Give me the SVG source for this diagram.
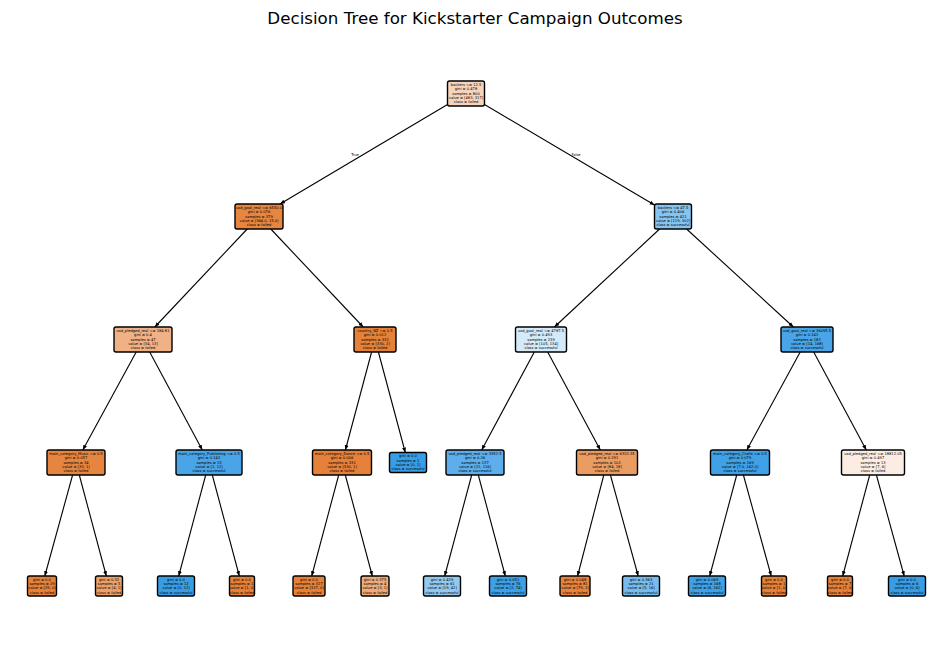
<svg xmlns="http://www.w3.org/2000/svg" width="950" height="658" viewBox="0 0 950 658">
<defs>
<style>
.t{font-family:"DejaVu Sans",sans-serif;font-size:3.65px;text-anchor:middle;fill:#000}
.b{stroke:#000;stroke-width:1.4}
.e{stroke:#000;stroke-width:1.1;fill:none;marker-end:url(#ah)}
.title{font-family:"DejaVu Sans",sans-serif;font-size:16.7px;text-anchor:middle;fill:#000}
</style>
<marker id="ah" viewBox="0 0 10 10" refX="10" refY="5" markerWidth="5" markerHeight="5" orient="auto" markerUnits="userSpaceOnUse">
<path d="M0,1 L10,5 L0,9 z" fill="#000"/>
</marker>
</defs>
<rect width="950" height="658" fill="#fff"/>
<text class="title" x="475" y="24">Decision Tree for Kickstarter Campaign Outcomes</text>

<g id="connectors">
<line class="e" x1="447.5" y1="104.5" x2="280" y2="204"/>
<line class="e" x1="484.5" y1="104.5" x2="654.5" y2="205"/>
<text class="t" x="355" y="156">True</text>
<text class="t" x="576" y="156">False</text>
<line class="e" x1="247.2" y1="229" x2="154.8" y2="327"/>
<line class="e" x1="270.8" y1="229" x2="363.2" y2="327"/>
<line class="e" x1="659.6" y1="229" x2="554.4" y2="327"/>
<line class="e" x1="686.6" y1="229" x2="793.4" y2="327"/>
<line class="e" x1="136.2" y1="352" x2="82.8" y2="450"/>
<line class="e" x1="149.7" y1="352" x2="202.3" y2="450"/>
<line class="e" x1="371.6" y1="352" x2="345.4" y2="450"/>
<line class="e" x1="378.4" y1="352" x2="405.3" y2="452.5"/>
<line class="e" x1="534.3" y1="352" x2="481.7" y2="450"/>
<line class="e" x1="547.7" y1="352" x2="600.3" y2="450"/>
<line class="e" x1="800.2" y1="352" x2="746.8" y2="450"/>
<line class="e" x1="813.7" y1="352" x2="866.3" y2="450"/>
<line class="e" x1="72.6" y1="475" x2="44.8" y2="576"/>
<line class="e" x1="79.3" y1="475" x2="106.3" y2="576"/>
<line class="e" x1="205.7" y1="475" x2="178.7" y2="576"/>
<line class="e" x1="212.3" y1="475" x2="239.3" y2="576"/>
<line class="e" x1="338.7" y1="475" x2="311.7" y2="576"/>
<line class="e" x1="345.3" y1="475" x2="372.3" y2="576"/>
<line class="e" x1="471.7" y1="475" x2="444.7" y2="576"/>
<line class="e" x1="478.3" y1="475" x2="505.3" y2="576"/>
<line class="e" x1="603.8" y1="475" x2="577.6" y2="576"/>
<line class="e" x1="610.4" y1="475" x2="638.2" y2="576"/>
<line class="e" x1="736.7" y1="475" x2="709.7" y2="576"/>
<line class="e" x1="743.4" y1="475" x2="771.2" y2="576"/>
<line class="e" x1="869.7" y1="475" x2="842.7" y2="576"/>
<line class="e" x1="876.4" y1="475" x2="904.2" y2="576"/>
</g>

<g id="n0"><rect class="b" x="447.5" y="81" width="37" height="25" rx="2" fill="#f6d4bb"/>
<text class="t" x="466" y="86.1">backers &lt;= 12.5</text><text class="t" x="466" y="90.4">gini = 0.478</text><text class="t" x="466" y="94.7">samples = 800</text><text class="t" x="466" y="99">value = [483, 317]</text><text class="t" x="466" y="103.3">class = failed</text></g>

<g id="n1"><rect class="b" x="235" y="204" width="48" height="25" rx="2" fill="#e68641"/>
<text class="t" x="259" y="209.1">usd_goal_real &lt;= 6550.0</text><text class="t" x="259" y="213.4">gini = 0.076</text><text class="t" x="259" y="217.7">samples = 379</text><text class="t" x="259" y="222">value = [364.0, 15.0]</text><text class="t" x="259" y="226.3">class = failed</text></g>

<g id="n2"><rect class="b" x="654.5" y="204" width="37" height="25" rx="2" fill="#87c4ef"/>
<text class="t" x="673" y="209.1">backers &lt;= 47.5</text><text class="t" x="673" y="213.4">gini = 0.406</text><text class="t" x="673" y="217.7">samples = 421</text><text class="t" x="673" y="222">value = [119, 302]</text><text class="t" x="673" y="226.3">class = successful</text></g>

<g id="n3"><rect class="b" x="114" y="327" width="58" height="25" rx="2" fill="#efb185"/>
<text class="t" x="143" y="332.1">usd_pledged_real &lt;= 184.81</text><text class="t" x="143" y="336.4">gini = 0.4</text><text class="t" x="143" y="340.7">samples = 47</text><text class="t" x="143" y="345">value = [34, 13]</text><text class="t" x="143" y="349.3">class = failed</text></g>

<g id="n4"><rect class="b" x="354" y="327" width="42" height="25" rx="2" fill="#e5823a"/>
<text class="t" x="375" y="332.1">country_NZ &lt;= 0.5</text><text class="t" x="375" y="336.4">gini = 0.012</text><text class="t" x="375" y="340.7">samples = 332</text><text class="t" x="375" y="345">value = [330, 2]</text><text class="t" x="375" y="349.3">class = failed</text></g>

<g id="n5"><rect class="b" x="515.5" y="327" width="51" height="25" rx="2" fill="#d4eaf9"/>
<text class="t" x="541" y="332.1">usd_goal_real &lt;= 4787.5</text><text class="t" x="541" y="336.4">gini = 0.493</text><text class="t" x="541" y="340.7">samples = 239</text><text class="t" x="541" y="345">value = [105, 134]</text><text class="t" x="541" y="349.3">class = successful</text></g>

<g id="n6"><rect class="b" x="781" y="327" width="52" height="25" rx="2" fill="#49a5e7"/>
<text class="t" x="807" y="332.1">usd_goal_real &lt;= 36095.5</text><text class="t" x="807" y="336.4">gini = 0.142</text><text class="t" x="807" y="340.7">samples = 182</text><text class="t" x="807" y="345">value = [14, 168]</text><text class="t" x="807" y="349.3">class = successful</text></g>

<g id="n7"><rect class="b" x="47" y="450" width="58" height="25" rx="2" fill="#e6853f"/>
<text class="t" x="76" y="455.1">main_category_Music &lt;= 0.5</text><text class="t" x="76" y="459.4">gini = 0.057</text><text class="t" x="76" y="463.7">samples = 34</text><text class="t" x="76" y="468">value = [33, 1]</text><text class="t" x="76" y="472.3">class = failed</text></g>

<g id="n8"><rect class="b" x="176" y="450" width="66" height="25" rx="2" fill="#49a5e7"/>
<text class="t" x="209" y="455.1">main_category_Publishing &lt;= 0.5</text><text class="t" x="209" y="459.4">gini = 0.142</text><text class="t" x="209" y="463.7">samples = 13</text><text class="t" x="209" y="468">value = [1, 12]</text><text class="t" x="209" y="472.3">class = successful</text></g>

<g id="n9"><rect class="b" x="312.5" y="450" width="59" height="25" rx="2" fill="#e5813a"/>
<text class="t" x="342" y="455.1">main_category_Dance &lt;= 0.5</text><text class="t" x="342" y="459.4">gini = 0.006</text><text class="t" x="342" y="463.7">samples = 331</text><text class="t" x="342" y="468">value = [330, 1]</text><text class="t" x="342" y="472.3">class = failed</text></g>

<g id="n10"><rect class="b" x="389.5" y="452.5" width="37" height="20" rx="2" fill="#399de5"/>
<text class="t" x="408" y="457.3">gini = 0.0</text><text class="t" x="408" y="461.6">samples = 1</text><text class="t" x="408" y="465.9">value = [0, 1]</text><text class="t" x="408" y="470.2">class = successful</text></g>

<g id="n11"><rect class="b" x="446" y="450" width="58" height="25" rx="2" fill="#5daeea"/>
<text class="t" x="475" y="455.1">usd_pledged_real &lt;= 3352.5</text><text class="t" x="475" y="459.4">gini = 0.26</text><text class="t" x="475" y="463.7">samples = 137</text><text class="t" x="475" y="468">value = [21, 116]</text><text class="t" x="475" y="472.3">class = successful</text></g>

<g id="n12"><rect class="b" x="576.5" y="450" width="61" height="25" rx="2" fill="#eb9c63"/>
<text class="t" x="607" y="455.1">usd_pledged_real &lt;= 6322.35</text><text class="t" x="607" y="459.4">gini = 0.291</text><text class="t" x="607" y="463.7">samples = 102</text><text class="t" x="607" y="468">value = [84, 18]</text><text class="t" x="607" y="472.3">class = failed</text></g>

<g id="n13"><rect class="b" x="710.5" y="450" width="59" height="25" rx="2" fill="#41a1e6"/>
<text class="t" x="740" y="455.1">main_category_Crafts &lt;= 0.5</text><text class="t" x="740" y="459.4">gini = 0.079</text><text class="t" x="740" y="463.7">samples = 169</text><text class="t" x="740" y="468">value = [7.0, 162.0]</text><text class="t" x="740" y="472.3">class = successful</text></g>

<g id="n14"><rect class="b" x="841.5" y="450" width="63" height="25" rx="2" fill="#fbede3"/>
<text class="t" x="873" y="455.1">usd_pledged_real &lt;= 18812.05</text><text class="t" x="873" y="459.4">gini = 0.497</text><text class="t" x="873" y="463.7">samples = 13</text><text class="t" x="873" y="468">value = [7, 6]</text><text class="t" x="873" y="472.3">class = failed</text></g>

<g id="l1"><rect class="b" x="27.5" y="576" width="29" height="20" rx="2" fill="#e58139"/>
<text class="t" x="42" y="580.8">gini = 0.0</text><text class="t" x="42" y="585.1">samples = 29</text><text class="t" x="42" y="589.4">value = [29, 0]</text><text class="t" x="42" y="593.7">class = failed</text></g>

<g id="l2"><rect class="b" x="95.5" y="576" width="27" height="20" rx="2" fill="#eca06a"/>
<text class="t" x="109" y="580.8">gini = 0.32</text><text class="t" x="109" y="585.1">samples = 5</text><text class="t" x="109" y="589.4">value = [4, 1]</text><text class="t" x="109" y="593.7">class = failed</text></g>

<g id="l3"><rect class="b" x="157.5" y="576" width="37" height="20" rx="2" fill="#399de5"/>
<text class="t" x="176" y="580.8">gini = 0.0</text><text class="t" x="176" y="585.1">samples = 12</text><text class="t" x="176" y="589.4">value = [0, 12]</text><text class="t" x="176" y="593.7">class = successful</text></g>

<g id="l4"><rect class="b" x="229.5" y="576" width="25" height="20" rx="2" fill="#e58139"/>
<text class="t" x="242" y="580.8">gini = 0.0</text><text class="t" x="242" y="585.1">samples = 1</text><text class="t" x="242" y="589.4">value = [1, 0]</text><text class="t" x="242" y="593.7">class = failed</text></g>

<g id="l5"><rect class="b" x="293" y="576" width="32" height="20" rx="2" fill="#e58139"/>
<text class="t" x="309" y="580.8">gini = 0.0</text><text class="t" x="309" y="585.1">samples = 327</text><text class="t" x="309" y="589.4">value = [327, 0]</text><text class="t" x="309" y="593.7">class = failed</text></g>

<g id="l6"><rect class="b" x="361" y="576" width="28" height="20" rx="2" fill="#eeab7b"/>
<text class="t" x="375" y="580.8">gini = 0.375</text><text class="t" x="375" y="585.1">samples = 4</text><text class="t" x="375" y="589.4">value = [3, 1]</text><text class="t" x="375" y="593.7">class = failed</text></g>

<g id="l7"><rect class="b" x="423.5" y="576" width="37" height="20" rx="2" fill="#93c9f1"/>
<text class="t" x="442" y="580.8">gini = 0.429</text><text class="t" x="442" y="585.1">samples = 61</text><text class="t" x="442" y="589.4">value = [19, 42]</text><text class="t" x="442" y="593.7">class = successful</text></g>

<g id="l8"><rect class="b" x="489.5" y="576" width="37" height="20" rx="2" fill="#3ea0e6"/>
<text class="t" x="508" y="580.8">gini = 0.051</text><text class="t" x="508" y="585.1">samples = 76</text><text class="t" x="508" y="589.4">value = [2, 74]</text><text class="t" x="508" y="593.7">class = successful</text></g>

<g id="l9"><rect class="b" x="560" y="576" width="30" height="20" rx="2" fill="#e6843e"/>
<text class="t" x="575" y="580.8">gini = 0.048</text><text class="t" x="575" y="585.1">samples = 81</text><text class="t" x="575" y="589.4">value = [79, 2]</text><text class="t" x="575" y="593.7">class = failed</text></g>

<g id="l10"><rect class="b" x="622.5" y="576" width="37" height="20" rx="2" fill="#77bced"/>
<text class="t" x="641" y="580.8">gini = 0.363</text><text class="t" x="641" y="585.1">samples = 21</text><text class="t" x="641" y="589.4">value = [5, 16]</text><text class="t" x="641" y="593.7">class = successful</text></g>

<g id="l11"><rect class="b" x="688.5" y="576" width="37" height="20" rx="2" fill="#40a1e6"/>
<text class="t" x="707" y="580.8">gini = 0.069</text><text class="t" x="707" y="585.1">samples = 168</text><text class="t" x="707" y="589.4">value = [6, 162]</text><text class="t" x="707" y="593.7">class = successful</text></g>

<g id="l12"><rect class="b" x="761.5" y="576" width="25" height="20" rx="2" fill="#e58139"/>
<text class="t" x="774" y="580.8">gini = 0.0</text><text class="t" x="774" y="585.1">samples = 1</text><text class="t" x="774" y="589.4">value = [1, 0]</text><text class="t" x="774" y="593.7">class = failed</text></g>

<g id="l13"><rect class="b" x="827.5" y="576" width="25" height="20" rx="2" fill="#e58139"/>
<text class="t" x="840" y="580.8">gini = 0.0</text><text class="t" x="840" y="585.1">samples = 7</text><text class="t" x="840" y="589.4">value = [7, 0]</text><text class="t" x="840" y="593.7">class = failed</text></g>

<g id="l14"><rect class="b" x="888.5" y="576" width="37" height="20" rx="2" fill="#399de5"/>
<text class="t" x="907" y="580.8">gini = 0.0</text><text class="t" x="907" y="585.1">samples = 6</text><text class="t" x="907" y="589.4">value = [0, 6]</text><text class="t" x="907" y="593.7">class = successful</text></g>
</svg>
